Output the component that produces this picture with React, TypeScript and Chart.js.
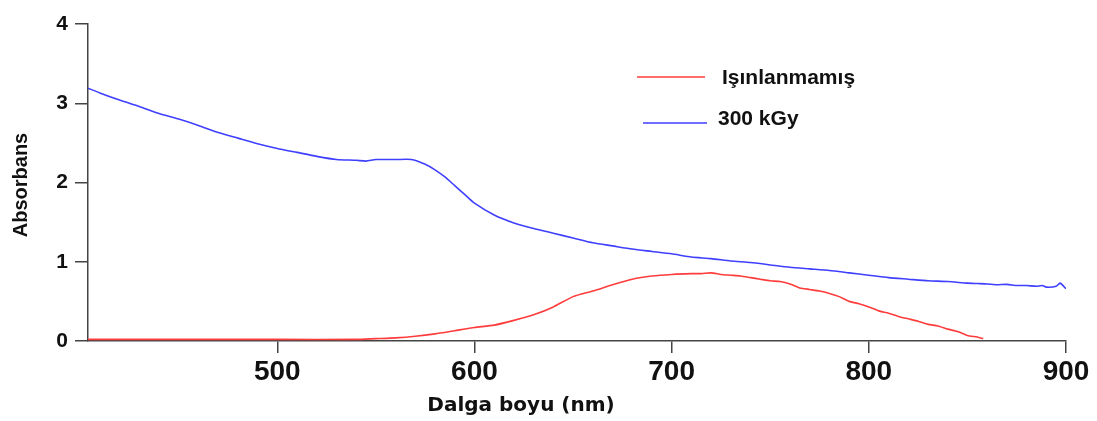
import React, { useEffect, useRef } from "react";
import { Chart, registerables } from "chart.js";

Chart.register(...registerables);

// ---- data ----
const irradiatedWavelength = [
  404, 410, 420, 430, 440, 450, 460, 470, 480, 490, 500, 510, 520, 530, 540, 545, 550, 560, 568,
  575, 580, 585, 590, 595, 600, 610, 620, 630, 640, 650, 660, 670, 680, 690, 700, 710, 720, 730,
  740, 750, 760, 770, 780, 790, 800, 810, 820, 830, 840, 850, 855, 860, 865, 870, 875, 880, 885,
  888, 890, 895, 897, 900,
];
const irradiatedAbs = [
  3.19, 3.13, 3.04, 2.96, 2.87, 2.8, 2.72, 2.63, 2.56, 2.49, 2.43, 2.38, 2.33, 2.29, 2.28, 2.27,
  2.29, 2.29, 2.29, 2.23, 2.16, 2.07, 1.96, 1.85, 1.74, 1.59, 1.49, 1.42, 1.36, 1.3, 1.24, 1.2,
  1.16, 1.13, 1.1, 1.06, 1.04, 1.01, 0.99, 0.96, 0.93, 0.91, 0.89, 0.86, 0.83, 0.8, 0.78, 0.76,
  0.75, 0.73, 0.725, 0.72, 0.71, 0.715, 0.7, 0.7, 0.69, 0.7, 0.68, 0.69, 0.73, 0.66,
];

const controlWavelength = [
  404, 450, 500, 540, 550, 560, 570, 580, 590, 600, 610, 620, 630, 640, 650, 660, 670, 680, 690,
  700, 710, 715, 720, 725, 730, 735, 740, 745, 750, 755, 760, 765, 770, 775, 780, 785, 790, 795,
  800, 805, 810, 815, 820, 825, 830, 835, 840, 845, 850, 855, 858,
];
const controlAbs = [
  0.02, 0.02, 0.02, 0.02, 0.03, 0.04, 0.06, 0.09, 0.13, 0.17, 0.2, 0.26, 0.33, 0.43, 0.56, 0.63,
  0.71, 0.78, 0.82, 0.84, 0.85, 0.85, 0.86, 0.84, 0.83, 0.82, 0.8, 0.78, 0.76, 0.75, 0.72, 0.67,
  0.65, 0.63, 0.6, 0.56, 0.5, 0.47, 0.43, 0.38, 0.35, 0.31, 0.28, 0.25, 0.21, 0.19, 0.15, 0.12,
  0.07, 0.05, 0.03,
];

const seriesLabels = ["Işınlanmamış", "300 kGy"];
const xTickValues = [500, 600, 700, 800, 900];
const xTitle = "Dalga boyu (nm)";
const yTitle = "Absorbans";

const RED = "#ff3c3c";
const BLUE = "#3f3fff";
const AXIS = "#444444";

const overlayPlugin = {
  id: "overlay",
  afterDraw(chart: any) {
    const ctx = chart.ctx;
    ctx.save();
    // axis titles
    ctx.fillStyle = "#111";
    ctx.textAlign = "center";
    ctx.textBaseline = "middle";
    ctx.font = "bold 20px 'DejaVu Sans'";
    ctx.fillText(xTitle, 521, 406);
    ctx.save();
    ctx.translate(21, 185);
    ctx.rotate(-Math.PI / 2);
    ctx.font = "bold 20px 'Liberation Sans', Arial";
    ctx.fillText(yTitle, 0, 0);
    ctx.restore();
    // legend
    const items = [
      { ds: chart.data.datasets[0], x1: 637, x2: 705, ly: 77, tx: 722, ty: 78 },
      { ds: chart.data.datasets[1], x1: 643, x2: 707, ly: 123, tx: 718, ty: 119 },
    ];
    ctx.textAlign = "left";
    ctx.font = "bold 21px 'Liberation Sans', Arial";
    for (const it of items) {
      ctx.strokeStyle = it.ds.borderColor;
      ctx.lineWidth = 1.6;
      ctx.beginPath();
      ctx.moveTo(it.x1, it.ly);
      ctx.lineTo(it.x2, it.ly);
      ctx.stroke();
      ctx.fillStyle = "#111";
      ctx.fillText(it.ds.label, it.tx, it.ty);
    }
    ctx.restore();
  },
};

export default function App() {
  const canvasRef = useRef<HTMLCanvasElement | null>(null);

  useEffect(() => {
    if (!canvasRef.current) return;
    const chart = new Chart(canvasRef.current, {
      type: "line",
      data: {
        datasets: [
          {
            label: seriesLabels[0],
            data: controlWavelength.map((x, i) => ({ x, y: controlAbs[i] })),
            borderColor: RED,
            borderWidth: 1.6,
            pointRadius: 0,
            tension: 0.2,
            fill: false,
          },
          {
            label: seriesLabels[1],
            data: irradiatedWavelength.map((x, i) => ({ x, y: irradiatedAbs[i] })),
            borderColor: BLUE,
            borderWidth: 1.6,
            pointRadius: 0,
            tension: 0.2,
            fill: false,
          },
        ],
      },
      options: {
        animation: false,
        responsive: true,
        maintainAspectRatio: false,
        layout: { padding: { top: 24, right: 31, left: 0, bottom: 0 } },
        plugins: { legend: { display: false }, tooltip: { enabled: false } },
        scales: {
          x: {
            type: "linear",
            min: 404,
            max: 900,
            afterBuildTicks: (scale: any) => {
              scale.ticks = xTickValues.map((v) => ({ value: v }));
            },
            afterFit: (scale: any) => {
              scale.height = 80;
            },
            grid: { display: true, drawOnChartArea: false, drawTicks: true, tickLength: 12, color: AXIS, lineWidth: 1.5 },
            border: { display: true, color: AXIS, width: 1.5 },
            ticks: {
              color: "#111",
              padding: 5,
              maxRotation: 0,
              autoSkip: false,
              font: { family: "'Liberation Sans', Arial", size: 28, weight: "bold", lineHeight: 1 },
            },
          },
          y: {
            type: "linear",
            min: 0,
            max: 4,
            afterFit: (scale: any) => {
              scale.width = 88;
            },
            grid: { display: true, drawOnChartArea: false, drawTicks: true, tickLength: 13, color: AXIS, lineWidth: 1.5 },
            border: { display: true, color: AXIS, width: 1.5 },
            ticks: {
              stepSize: 1,
              color: "#111",
              padding: 7,
              font: { family: "'Liberation Sans', Arial", size: 21, weight: "bold", lineHeight: 1 },
            },
          },
        },
      },
      plugins: [overlayPlugin],
    });
    return () => chart.destroy();
  }, []);

  return (
    <div style={{ position: "absolute", left: 0, top: 0, width: 1097, height: 421, background: "#fff" }}>
      <canvas ref={canvasRef} />
    </div>
  );
}
